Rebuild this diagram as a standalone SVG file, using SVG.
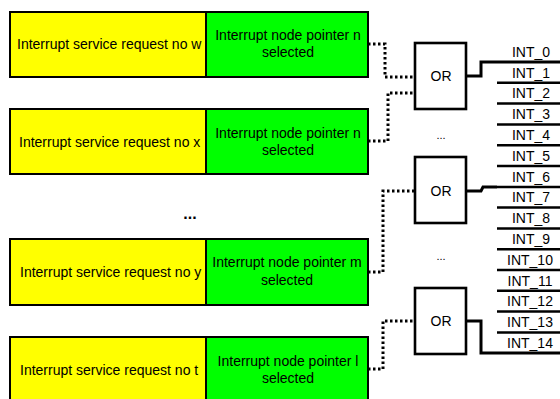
<svg xmlns="http://www.w3.org/2000/svg" width="560" height="399" viewBox="0 0 560 399">
<style>
.y{fill:#ffff00;stroke:#000;stroke-width:2}
.g{fill:#00ff00;stroke:#000;stroke-width:2}
.t{font-family:"Liberation Sans",Arial,sans-serif;font-size:14px;fill:#000}
.c{text-anchor:middle}
.gate{fill:#fff;stroke:#000;stroke-width:2.6}
.dot{fill:none;stroke:#000;stroke-width:3;stroke-dasharray:2.5 2.5}
.out{fill:none;stroke:#000;stroke-width:3}
.ln{stroke:#000;stroke-width:2.5}
.sm{font-family:"Liberation Sans",Arial,sans-serif;font-size:11px;fill:#000;text-anchor:middle}
</style>
<g id="connectors">
<polyline class="dot" points="368,44 385,44 385,77 415,77"/>
<polyline class="dot" points="368,141 388,141 388,93 415,93"/>
<polyline class="dot" points="368,272 383,272 383,191 415,191"/>
<polyline class="dot" points="368,369 383,369 383,321 415,321"/>
<polyline class="out" points="466,76 481,76 481,62 560,62"/>
<polyline class="out" points="466,191 481,191 483,187 497,187"/>
<polyline class="out" points="466,321 481,321 481,353 560,353"/>
</g>
<g id="node1">
<rect class="y" x="10" y="12" width="196" height="65"/>
<text class="t" x="17" y="49">Interrupt service request no w</text>
<rect class="g" x="206" y="12" width="162" height="65"/>
<text class="t c" x="288" y="40">Interrupt node pointer n</text>
<text class="t c" x="288" y="57">selected</text>
</g>
<g id="node2">
<rect class="y" x="10" y="109" width="196" height="65"/>
<text class="t" x="19" y="147">Interrupt service request no x</text>
<rect class="g" x="206" y="109" width="162" height="65"/>
<text class="t c" x="288" y="138">Interrupt node pointer n</text>
<text class="t c" x="288" y="155">selected</text>
</g>
<g id="ellipsis">
<text class="t c" x="190" y="219" style="font-weight:bold;font-size:16px">...</text>
</g>
<g id="node3">
<rect class="y" x="10" y="239" width="196" height="66"/>
<text class="t" x="20" y="277">Interrupt service request no y</text>
<rect class="g" x="206" y="239" width="162" height="66"/>
<text class="t c" x="287" y="267">Interrupt node pointer m</text>
<text class="t c" x="287" y="285">selected</text>
</g>
<g id="node4">
<rect class="y" x="10" y="337" width="196" height="66"/>
<text class="t" x="20" y="375">Interrupt service request no t</text>
<rect class="g" x="206" y="337" width="162" height="66"/>
<text class="t c" x="288" y="366">Interrupt node pointer l</text>
<text class="t c" x="288" y="383">selected</text>
</g>
<g id="or1">
<rect class="gate" x="415" y="43" width="51" height="66"/>
<text class="t c" x="441" y="81">OR</text>
</g>
<text class="sm" x="441" y="139">...</text>
<g id="or2">
<rect class="gate" x="415" y="157" width="51" height="66"/>
<text class="t c" x="441" y="196">OR</text>
</g>
<text class="sm" x="441" y="260">...</text>
<g id="or3">
<rect class="gate" x="415" y="288" width="51" height="66"/>
<text class="t c" x="441" y="326">OR</text>
</g>
<g id="outputs">
<line class="ln" x1="497" y1="82.8" x2="560" y2="82.8"/>
<line class="ln" x1="497" y1="103.6" x2="560" y2="103.6"/>
<line class="ln" x1="497" y1="124.4" x2="560" y2="124.4"/>
<line class="ln" x1="497" y1="145.2" x2="560" y2="145.2"/>
<line class="ln" x1="497" y1="166" x2="560" y2="166"/>
<line class="ln" x1="497" y1="187" x2="560" y2="187"/>
<line class="ln" x1="497" y1="207.6" x2="560" y2="207.6"/>
<line class="ln" x1="497" y1="228.4" x2="560" y2="228.4"/>
<line class="ln" x1="497" y1="249.2" x2="560" y2="249.2"/>
<line class="ln" x1="497" y1="270" x2="560" y2="270"/>
<line class="ln" x1="497" y1="290.8" x2="560" y2="290.8"/>
<line class="ln" x1="497" y1="311.6" x2="560" y2="311.6"/>
<line class="ln" x1="497" y1="332.4" x2="560" y2="332.4"/>
<text class="t c" x="531" y="57">INT_0</text>
<text class="t c" x="531" y="78">INT_1</text>
<text class="t c" x="531" y="98">INT_2</text>
<text class="t c" x="531" y="119">INT_3</text>
<text class="t c" x="531" y="140">INT_4</text>
<text class="t c" x="531" y="161">INT_5</text>
<text class="t c" x="531" y="182">INT_6</text>
<text class="t c" x="531" y="202">INT_7</text>
<text class="t c" x="531" y="223">INT_8</text>
<text class="t c" x="531" y="244">INT_9</text>
<text class="t c" x="530" y="265">INT_10</text>
<text class="t c" x="530" y="286">INT_11</text>
<text class="t c" x="530" y="306">INT_12</text>
<text class="t c" x="530" y="327">INT_13</text>
<text class="t c" x="530" y="348">INT_14</text>
</g>
</svg>
